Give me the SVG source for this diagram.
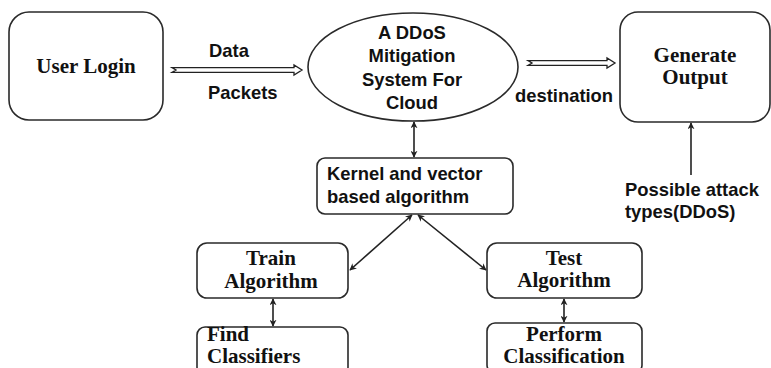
<svg xmlns="http://www.w3.org/2000/svg" width="771" height="368" viewBox="0 0 771 368">
<style>
.box{fill:#fff;stroke:#2a2a2a;stroke-width:1.6}
.ser{font-family:"Liberation Serif","Times New Roman",serif;font-weight:bold;font-size:21px;fill:#111}
.san{font-family:"Liberation Sans",Arial,sans-serif;font-weight:bold;font-size:18.4px;fill:#111}
.c{text-anchor:middle}
.ln{stroke:#222;stroke-width:1.6;fill:none}
.hol{fill:#fff;stroke:#222;stroke-width:1.3}
</style>
<defs>
<marker id="ah" viewBox="0 0 10 10" refX="9" refY="5" markerWidth="7" markerHeight="7" markerUnits="userSpaceOnUse" orient="auto-start-reverse">
<path d="M0,0 L10,5 L0,10 L3,5 z" fill="#222"/>
</marker>
</defs>
<rect width="771" height="368" fill="#fff"/>
<g id="user-login">
<rect class="box" x="9" y="12" width="154" height="108" rx="20"/>
<text class="ser c" x="86" y="73" font-size="20">User Login</text>
</g>
<g id="ddos-system">
<ellipse class="box" cx="413" cy="67" rx="105" ry="54"/>
<text class="san c" x="412" y="39">A DDoS</text>
<text class="san c" x="412" y="62">Mitigation</text>
<text class="san c" x="412" y="86">System For</text>
<text class="san c" x="412" y="109">Cloud</text>
</g>
<g id="generate-output">
<rect class="box" x="620" y="12" width="150" height="110" rx="18"/>
<text class="ser c" x="695" y="62" font-size="20.5">Generate</text>
<text class="ser c" x="695" y="84" font-size="20.5">Output</text>
</g>
<g id="kernel">
<rect class="box" x="317" y="158" width="196" height="56" rx="8"/>
<text class="san" x="327" y="180">Kernel and vector</text>
<text class="san" x="327" y="203">based algorithm</text>
</g>
<g id="train">
<rect class="box" x="197" y="243" width="151" height="55" rx="10"/>
<text class="ser c" x="271" y="265">Train</text>
<text class="ser c" x="271" y="288">Algorithm</text>
</g>
<g id="find">
<rect class="box" x="197" y="327" width="151" height="48" rx="8"/>
<text class="ser" x="207" y="341" font-size="20">Find</text>
<text class="ser" x="207" y="363" font-size="20.5">Classifiers</text>
</g>
<g id="test">
<rect class="box" x="487" y="243" width="155" height="55" rx="10"/>
<text class="ser c" x="564" y="265">Test</text>
<text class="ser c" x="564" y="287">Algorithm</text>
</g>
<g id="perform">
<rect class="box" x="487" y="323" width="155" height="50" rx="8"/>
<text class="ser c" x="564" y="341">Perform</text>
<text class="ser c" x="564" y="363" font-size="20.5">Classification</text>
</g>
<g id="connectors">
<polygon class="hol" points="172,67.6 294,67.6 294,65 302,70 294,75 294,72.4 172,72.4 176,70"/>
<text class="san" x="209" y="57">Data</text>
<text class="san" x="208" y="99">Packets</text>
<polygon class="hol" points="528,60.6 607,60.6 607,58 615,63 607,68 607,65.4 528,65.4 532,63"/>
<text class="san" x="515" y="102">destination</text>
<line class="ln" x1="414" y1="122" x2="414" y2="157" marker-start="url(#ah)" marker-end="url(#ah)"/>
<line class="ln" x1="412" y1="215" x2="350" y2="270" marker-start="url(#ah)" marker-end="url(#ah)"/>
<line class="ln" x1="418" y1="215" x2="486" y2="270" marker-start="url(#ah)" marker-end="url(#ah)"/>
<line class="ln" x1="273" y1="299" x2="273" y2="326" marker-start="url(#ah)" marker-end="url(#ah)"/>
<line class="ln" x1="564" y1="299" x2="564" y2="322" marker-start="url(#ah)" marker-end="url(#ah)"/>
<line class="ln" x1="691" y1="175" x2="691" y2="123" marker-end="url(#ah)"/>
<text class="san" x="625" y="196">Possible attack</text>
<text class="san" x="625" y="218">types(DDoS)</text>
</g>
</svg>
